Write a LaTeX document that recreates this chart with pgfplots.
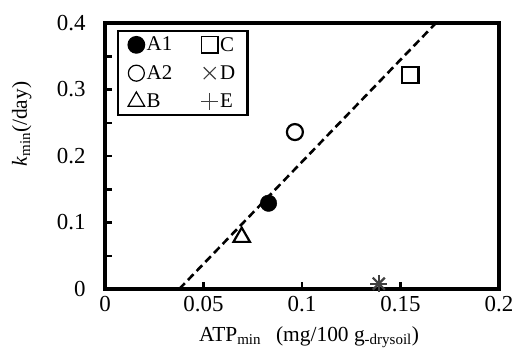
\documentclass[border=0pt]{standalone}
\usepackage{fontspec}
\setmainfont{Liberation Serif}
\usepackage{pgfplots}
\pgfplotsset{compat=1.18}
\begin{document}
\begin{tikzpicture}
\begin{axis}[
  scale only axis, width=394bp, height=266bp,
  xmin=0, xmax=0.2, ymin=0, ymax=0.4,
  xtick={0,0.05,0.1,0.15,0.2},
  xticklabels={0,0.05,0.1,0.15,0.2},
  ytick={0,0.1,0.2,0.3,0.4},
  yticklabels={0,0.1,0.2,0.3,0.4},
  minor ytick={0.05,0.15,0.25,0.35},
  /pgf/number format/assume math mode=true,
  tick pos=left, tick align=inside,
  major tick length=7bp, minor tick length=7bp,
  tick style={black, line width=2.5bp},
  axis line style={line width=3.5bp},
  tick label style={font=\fontsize{23}{26}\selectfont},
  xticklabel style={yshift=-4bp},
  yticklabel style={xshift=-16bp},
  label style={font=\fontsize{21.5}{25}\selectfont},
  xlabel={ATP\textsubscript{min}\hspace{0.7em}(mg/100 g\textsubscript{-drysoil})},
  ylabel={\textit{k}\textsubscript{min}(/day)},
  xlabel style={at={(axis description cs:0.518,-0.196)}, anchor=base},
  ylabel style={at={(axis description cs:-0.211,0.62)}, anchor=center},
  clip mode=individual,
  legend columns=2,
  legend cell align=left,
  legend style={at={(axis description cs:0.03,0.974)}, anchor=north west, draw=black, line width=2.5bp,
    font=\fontsize{21}{24}\selectfont, inner xsep=10bp, inner ysep=4bp,
    row sep=9bp,
    /tikz/every even column/.append style={column sep=27bp}},
  legend image code/.code={\draw[#1] plot coordinates {(0bp,0bp)};},
  legend image post style={line width=1.2bp},
]
\addplot[only marks, mark=*, mark size=8.3bp, black] coordinates {(0.083,0.129)};
\addlegendentry{A1}
\addplot[only marks, mark=square, mark size=8.2bp, line width=2.2bp, black] coordinates {(0.155,0.322)};
\addlegendentry{C}
\addplot[only marks, mark=o, mark size=8bp, line width=2.2bp, black] coordinates {(0.0964,0.236)};
\addlegendentry{A2}
\addplot[only marks, mark=x, mark size=8.5bp, line width=2.2bp, black!75] coordinates {(0.139,0.008)};
\addlegendentry{D}
\addplot[only marks, mark=triangle, mark size=9.5bp, line width=2.2bp, black] coordinates {(0.0694,0.078)};
\addlegendentry{B}
\addplot[only marks, mark=+, mark size=8.5bp, line width=2.2bp, black!75] coordinates {(0.139,0.008)};
\addlegendentry{E}
\addplot[black, dash pattern=on 8bp off 4.5bp, line width=2.6bp, forget plot] coordinates {(0.0377,0) (0.168,0.4)};
\end{axis}
\pgfresetboundingbox
\path (current axis.south west) ++(-105bp,-60bp) rectangle ++(516bp,349bp);
\end{tikzpicture}
\end{document}
